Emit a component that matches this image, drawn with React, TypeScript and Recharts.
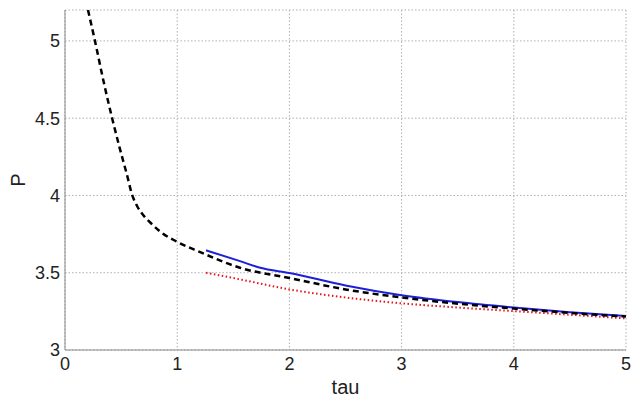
import React from 'react';
import { LineChart, Line, XAxis, YAxis, CartesianGrid } from 'recharts';

const xTicks = [0, 1, 2, 3, 4, 5];
const yTicks = [3, 3.5, 4, 4.5, 5];

const blackTau = [0.205, 0.267, 0.34, 0.42, 0.49, 0.55, 0.6, 0.64, 0.7, 0.76, 0.85, 1.0, 1.2, 1.56, 2.0, 2.5, 3.0, 3.5, 4.0, 4.5, 5.0];
const blackP = [5.2, 5.0, 4.75, 4.5, 4.3, 4.14, 4.0, 3.935, 3.87, 3.825, 3.765, 3.70, 3.635, 3.532, 3.466, 3.392, 3.34, 3.30, 3.268, 3.24, 3.216];

const blueTau = [1.257, 1.56, 1.74, 2.0, 2.5, 3.0, 3.5, 4.0, 4.5, 5.0];
const blueP = [3.645, 3.575, 3.532, 3.498, 3.418, 3.355, 3.31, 3.275, 3.245, 3.22];

const redTau = [1.257, 1.56, 2.0, 2.5, 3.0, 3.5, 4.0, 4.5, 5.0];
const redP = [3.5, 3.457, 3.392, 3.34, 3.302, 3.275, 3.252, 3.228, 3.205];

const zip = (xs: number[], ys: number[]) => xs.map((x, i) => ({ tau: x, P: ys[i] }));

const blackData = zip(blackTau, blackP);
const blueData = zip(blueTau, blueP);
const redData = zip(redTau, redP);

const FONT = '"Liberation Sans", Arial, Helvetica, sans-serif';
const AXIS = '#8a8a8a';
const TXT = '#222';

const PLabel = (props: any) => {
  const vb = props.viewBox || {};
  const cx = (vb.x || 0) + (vb.width || 0) - 47;
  const cy = (vb.y || 0) + (vb.height || 0) / 2;
  return (
    <text x={cx} y={cy} transform={`rotate(-90 ${cx} ${cy})`} textAnchor="middle" dominantBaseline="central" fontSize={20} fill={TXT} fontFamily={FONT}>
      P
    </text>
  );
};

export default function App() {
  return (
    <div style={{ position: 'absolute', left: 0, top: 0, width: 642, height: 397, background: '#fff' }}>
      <LineChart width={642} height={397} margin={{ top: 10, right: 16, bottom: 17, left: 5 }}>
        <CartesianGrid xAxisId="b" yAxisId="l" stroke="#b0b0b0" strokeDasharray="1.5 2" />
        <XAxis
          xAxisId="b"
          dataKey="tau"
          type="number"
          domain={[0, 5]}
          ticks={xTicks}
          allowDataOverflow
          stroke={AXIS}
          tickLine={false}
          tickSize={0}
          tickMargin={7}
          height={30}
          tick={{ fill: TXT, fontSize: 18, fontFamily: FONT }}
          label={{ value: 'tau', position: 'bottom', offset: 0, fill: TXT, fontSize: 20, fontFamily: FONT }}
        />
        <XAxis xAxisId="t" orientation="top" type="number" domain={[0, 5]} ticks={xTicks} stroke={AXIS} tick={false} tickLine={false} height={0} />
        <YAxis
          yAxisId="l"
          type="number"
          domain={[3, 5.2]}
          ticks={yTicks}
          allowDataOverflow
          stroke={AXIS}
          tickLine={false}
          tickSize={0}
          tickMargin={5}
          width={60}
          tick={{ fill: TXT, fontSize: 18, fontFamily: FONT }}
          label={<PLabel />}
        />
        <YAxis yAxisId="r" orientation="right" type="number" domain={[3, 5.2]} stroke={AXIS} tick={false} tickLine={false} width={0} />
        <Line xAxisId="b" yAxisId="l" data={redData} dataKey="P" type="monotone" stroke="#e8101a" strokeWidth={2} strokeDasharray="1.5 2.5" dot={false} isAnimationActive={false} />
        <Line xAxisId="b" yAxisId="l" data={blueData} dataKey="P" type="monotone" stroke="#1f1fd8" strokeWidth={2} dot={false} isAnimationActive={false} />
        <Line xAxisId="b" yAxisId="l" data={blackData} dataKey="P" type="monotone" stroke="#000" strokeWidth={2.5} strokeDasharray="6 4" dot={false} isAnimationActive={false} />
      </LineChart>
    </div>
  );
}
